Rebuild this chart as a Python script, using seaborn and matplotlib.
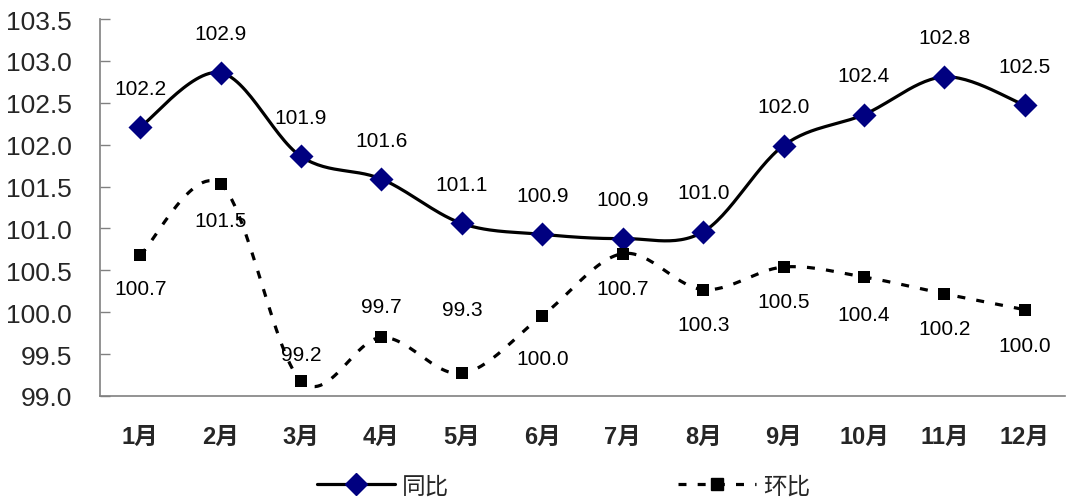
import numpy as np
import seaborn as sns
import matplotlib
import matplotlib.pyplot as plt
from matplotlib.lines import Line2D

matplotlib.use('Agg')

months = ['1月', '2月', '3月', '4月', '5月', '6月', '7月', '8月', '9月', '10月', '11月', '12月']
yoy = [102.21, 102.86, 101.86, 101.59, 101.06, 100.93, 100.88, 100.96, 101.99, 102.36, 102.81, 102.47]
mom = [100.68, 101.53, 99.18, 99.70, 99.27, 99.96, 100.70, 100.27, 100.54, 100.42, 100.22, 100.03]
yticks = [99.0, 99.5, 100.0, 100.5, 101.0, 101.5, 102.0, 102.5, 103.0, 103.5]

# label offsets in points (negative = below)
yoy_off = [28] * 12
mom_off = [-24, -26, 19, 22, 46, -31, -25, -25, -25, -27, -25, -26]


def smooth(xs, ys, n=30):
    # catmull-rom style smoothing, like excel's smoothed line
    x = np.asarray(xs, float)
    y = np.asarray(ys, float)
    px = np.concatenate([[x[0]], x, [x[-1]]])
    py = np.concatenate([[y[0]], y, [y[-1]]])
    out_x, out_y = [], []
    t = np.linspace(0, 1, n)
    for i in range(1, len(px) - 2):
        p0, p1, p2, p3 = [np.array([px[j], py[j]]) for j in (i - 1, i, i + 1, i + 2)]
        c1 = p1 + (p2 - p0) / 6
        c2 = p2 - (p3 - p1) / 6
        pts = ((1 - t) ** 3)[:, None] * p1 + (3 * (1 - t) ** 2 * t)[:, None] * c1 \
            + (3 * (1 - t) * t ** 2)[:, None] * c2 + (t ** 3)[:, None] * p2
        out_x.extend(pts[:, 0])
        out_y.extend(pts[:, 1])
    return out_x, out_y


sns.set_style('white')
plt.rcParams['font.family'] = ['Liberation Sans', 'Noto Sans CJK SC']

fig = plt.figure(figsize=(10.69, 5.02), dpi=100)
ax = fig.add_axes([0.0935, 0.2092, 0.9028, 0.7508])

xs = np.arange(len(months))
sx, sy = smooth(xs, yoy)
ax.plot(sx, sy, color='black', lw=2.3, zorder=3, solid_capstyle='round')
mx, my = smooth(xs, mom)
ax.plot(mx, my, color='black', lw=2.3, dashes=(2.5, 3.5), dash_capstyle='butt', zorder=2)

sns.scatterplot(x=xs, y=yoy, marker='D', s=150, color='#000080', edgecolor='#000080',
                linewidth=0, zorder=4, ax=ax, legend=False)
sns.scatterplot(x=xs, y=mom, marker='s', s=80, color='black', edgecolor='black',
                linewidth=0, zorder=4, ax=ax, legend=False)

for i in range(len(months)):
    ax.annotate(f'{yoy[i]:.1f}', (xs[i], yoy[i]), xytext=(0, yoy_off[i]), textcoords='offset points',
                ha='center', va='center', fontsize=15, color='black')
    ax.annotate(f'{mom[i]:.1f}', (xs[i], mom[i]), xytext=(0, mom_off[i]), textcoords='offset points',
                ha='center', va='center', fontsize=15, color='black')

ax.set_xlim(-0.5, len(months) - 0.5)
ax.set_ylim(99.0, 103.5)
ax.set_yticks(yticks)
ax.set_yticklabels([f'{v:.1f}' for v in yticks], fontsize=19)
ax.set_xticks(xs)
ax.set_xticklabels(months, fontsize=17, fontweight='semibold')
ax.set_xticks(np.arange(-0.5, len(months)), minor=True)
ax.tick_params(axis='x', which='major', length=0, pad=21)
ax.tick_params(axis='x', which='minor', direction='in', length=7, color='#808080', width=1)
ax.tick_params(axis='y', direction='in', length=7, color='#808080', width=1, pad=20, left=True)

for s in ['top', 'right']:
    ax.spines[s].set_visible(False)
for s in ['left', 'bottom']:
    ax.spines[s].set_color('#808080')
    ax.spines[s].set_linewidth(1.2)

handles = [
    Line2D([], [], color='black', lw=2.3, marker='D', ms=11, mfc='#000080', mec='#000080'),
    Line2D([], [], color='black', lw=2.3, dashes=(2.5, 3.5), marker='s', ms=8, mfc='black', mec='black'),
]
fig.legend(handles, ['同比', '环比'], loc='lower center', bbox_to_anchor=(0.527, -0.035), ncol=2,
           frameon=False, handlelength=3.3, columnspacing=9.7, handletextpad=0.3,
           prop={'family': ['Noto Sans CJK SC'], 'size': 17})

fig.savefig('out.png', dpi=100)
